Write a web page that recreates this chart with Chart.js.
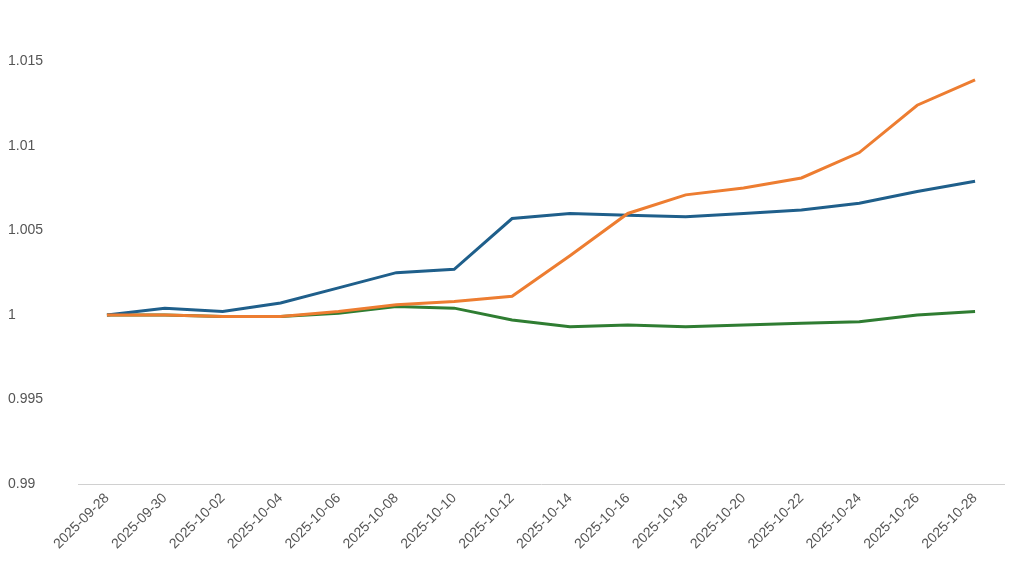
<!DOCTYPE html>
<html><head><meta charset="utf-8">
<script src="https://cdn.jsdelivr.net/npm/chart.js@4/dist/chart.umd.min.js"></script>
<style>html,body{margin:0;background:#fff}#w{width:1024px;height:585px}</style>
</head><body><div id="w"><canvas id="c"></canvas></div>
<script>
const categories=["2025-09-28","2025-09-30","2025-10-02","2025-10-04","2025-10-06","2025-10-08","2025-10-10","2025-10-12","2025-10-14","2025-10-16","2025-10-18","2025-10-20","2025-10-22","2025-10-24","2025-10-26","2025-10-28"];
const blue=[1.0,1.0004,1.0002,1.0007,1.0016,1.0025,1.0027,1.0057,1.006,1.0059,1.0058,1.006,1.0062,1.0066,1.0073,1.0079];
const orange=[1.0,1.0,0.9999,0.9999,1.0002,1.0006,1.0008,1.0011,1.0035,1.006,1.0071,1.0075,1.0081,1.0096,1.0124,1.0139];
const green=[1.0,1.0,0.9999,0.9999,1.0001,1.0005,1.0004,0.9997,0.9993,0.9994,0.9993,0.9994,0.9995,0.9996,1.0,1.0002];
const yTicks=[0.99,0.995,1,1.005,1.01,1.015];
const ds=(d,c)=>({data:d,borderColor:c,borderWidth:3,pointRadius:0,tension:0,fill:false});
new Chart(document.getElementById('c'),{type:'line',
data:{labels:categories,datasets:[ds(orange,'#ed7d31'),ds(blue,'#1f5f8b'),ds(green,'#2f7d32')]},
options:{responsive:true,maintainAspectRatio:false,animation:false,
layout:{padding:{left:8,right:20,top:19,bottom:0}},
plugins:{legend:{display:false},tooltip:{enabled:false}},
scales:{
x:{offset:true,grid:{display:false,drawTicks:false},border:{color:'#d0d0d0'},
afterFit:a=>{a.height=101;},
ticks:{color:'#555',font:{family:'Liberation Sans',size:14},maxRotation:45,minRotation:45,autoSkip:false,padding:6}},
y:{min:0.99,max:1.0175,grid:{display:false},border:{display:false},
afterFit:a=>{a.width=70;},
afterBuildTicks:a=>{a.ticks=yTicks.map(v=>({value:v}));},
ticks:{color:'#555',font:{family:'Liberation Sans',size:14},crossAlign:'far',callback:v=>String(+v.toFixed(3))}}
}}});
</script></body></html>
